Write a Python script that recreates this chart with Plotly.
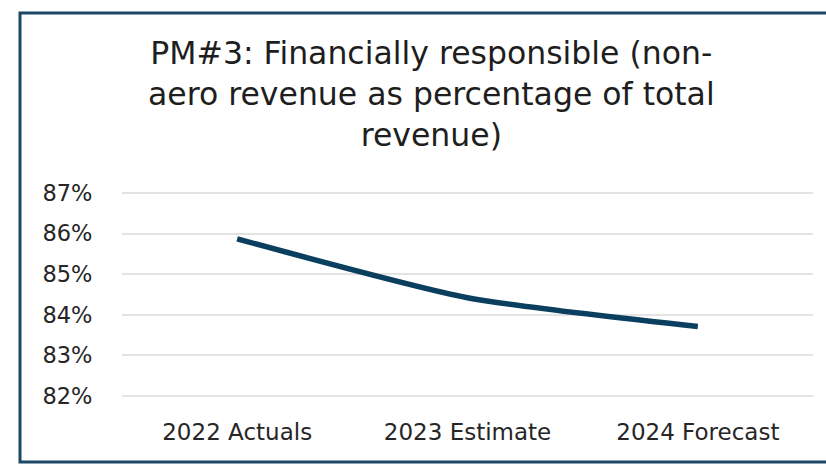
import plotly.graph_objects as go

categories = ["2022 Actuals", "2023 Estimate", "2024 Forecast"]
values = [0.8587, 0.8442, 0.8371]
y_ticks = [0.82, 0.83, 0.84, 0.85, 0.86, 0.87]
title_text = "PM#3: Financially responsible (non-<br>aero revenue as percentage of total<br>revenue)"

W, H = 826, 464
Y0, Y1 = 0.8195, 0.8705
L, R, T, B = 122, 13, 191, 66
pw, ph = W - L - R, H - T - B

def px_x(x):
    return (x - L) / pw

def px_y(y):
    return (H - B - y) / ph

FONT = "DejaVu Sans"

fig = go.Figure()
fig.add_trace(go.Scatter(
    x=categories, y=values, mode="lines",
    line=dict(color="#0b3f5f", width=5.5, shape="spline", smoothing=0.6),
    hoverinfo="skip", showlegend=False,
))

fig.update_layout(
    width=W, height=H,
    margin=dict(l=L, r=R, t=T, b=B, autoexpand=False),
    paper_bgcolor="white", plot_bgcolor="white",
    font=dict(family=FONT, color="#262626"),
    xaxis=dict(type="category", range=[-0.5, 2.5], showgrid=False, zeroline=False,
               showline=False, ticks="outside", ticklen=13, tickcolor="rgba(0,0,0,0)",
               tickfont=dict(size=23, color="#262626"), automargin=False),
    yaxis=dict(range=[Y0, Y1], tickvals=y_ticks, tickformat=".0%",
               showgrid=True, gridcolor="#e3e3e3", gridwidth=1.5, zeroline=False,
               showline=False, ticks="outside", ticklen=24, tickcolor="rgba(0,0,0,0)",
               tickfont=dict(size=22.5, color="#262626"), automargin=False),
    annotations=[dict(text=title_text, xref="paper", yref="paper",
                      x=px_x(431), y=px_y(94), xanchor="center", yanchor="middle",
                      showarrow=False, align="center",
                      font=dict(size=31.5, family=FONT, color="#1e1e1e"))],
    shapes=[dict(type="rect", xref="paper", yref="paper", layer="above",
                 x0=px_x(20), x1=px_x(840), y0=px_y(462), y1=px_y(13),
                 line=dict(color="#1b4965", width=3), fillcolor="rgba(0,0,0,0)")],
)

fig.write_html("out.html", config={"displayModeBar": False},
               post_script="document.body.style.margin='0';")
